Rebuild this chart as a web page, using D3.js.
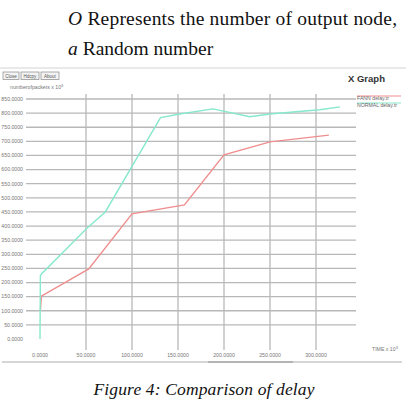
<!DOCTYPE html>
<html>
<head>
<meta charset="utf-8">
<script src="https://cdn.jsdelivr.net/npm/d3@7"></script>
<style>
  body { margin: 0; background: #fff; }
  svg { display: block; }
  .tick-lbl { font-family: "Liberation Sans", Arial, sans-serif; font-size: 5.2px; fill: #777; }
</style>
</head>
<body>
<svg id="chart" width="406" height="400"></svg>
<script>
// data (time x 10^3, packets x 10^3)
var fannTime  = [0.5, 1.5, 53, 100, 157, 200, 250, 314];
var fannVal   = [103, 152, 248, 443, 475, 652, 698, 722];
var normTime  = [0, 0.4, 1.5, 51, 71, 131, 152, 188, 228, 250, 304, 326];
var normVal   = [0, 225, 230, 392, 450, 784, 797, 815, 787, 797, 812, 822];
var xTicks = [0, 50, 100, 150, 200, 250, 300];
var yTicks = [0, 50, 100, 150, 200, 250, 300, 350, 400, 450, 500, 550, 600, 650, 700, 750, 800, 850];
var seriesNames = ['FANN delay.tr', 'NORMAL delay.tr'];
var seriesColors = ['#ef8e8e', '#86e8cc'];
var buttons = ['Close', 'Hdcpy', 'About'];

var svg = d3.select('#chart');

const x = d3.scaleLinear().domain([0, 300]).range([40, 316]);
const y = d3.scaleLinear().domain([0, 850]).range([339, 99]);

// text above the figure
svg.append('text')
    .attr('x', 68).attr('y', 25)
    .attr('font-family', '"Liberation Serif", "Times New Roman", serif')
    .attr('font-size', 19.5)
    .attr('textLength', 329)
    .attr('fill', '#111')
    .html('<tspan font-style="italic">O</tspan> Represents the number of output node,');
svg.append('text')
    .attr('x', 68).attr('y', 55)
    .attr('font-family', '"Liberation Serif", "Times New Roman", serif')
    .attr('font-size', 19.5)
    .attr('fill', '#111')
    .html('<tspan font-style="italic">a</tspan> Random number');

// window top border
svg.append('line')
    .attr('x1', 0).attr('x2', 406).attr('y1', 68).attr('y2', 68)
    .attr('stroke', '#d4d4d4').attr('stroke-width', 1.2);

// buttons
var bx = 3;
buttons.forEach(function (b) {
    var w = b == 'Close' ? 16 : 18;
    svg.append('rect')
        .attr('x', bx).attr('y', 72).attr('width', w).attr('height', 7.5)
        .attr('fill', '#f4f4f4').attr('stroke', '#888').attr('stroke-width', 0.7);
    svg.append('text')
        .attr('x', bx + w / 2).attr('y', 77.6)
        .attr('text-anchor', 'middle')
        .attr('class', 'tick-lbl')
        .style('font-size', '4.5px').style('fill', '#555')
        .text(b);
    bx += w + 2;
});

svg.append('text')
    .attr('x', 10).attr('y', 89)
    .attr('class', 'tick-lbl')
    .html('numberofpackets x 10<tspan dy="-2" font-size="4">3</tspan>');

svg.append('text')
    .attr('x', 348).attr('y', 82)
    .attr('font-family', '"Liberation Sans", Arial, sans-serif')
    .attr('font-size', 9.5).attr('font-weight', 'bold')
    .attr('fill', '#333')
    .text('X Graph');

// grid
var g = svg.append('g');
g.selectAll('.hgrid').data(yTicks.filter(d => d > 0))
    .enter().append('line')
    .attr('class', 'hgrid')
    .attr('x1', 26).attr('x2', 356)
    .attr('y1', d => y(d)).attr('y2', d => y(d))
    .attr('stroke', '#b8b8b8').attr('stroke-width', 1.3);

g.selectAll('.vgrid').data(xTicks.filter(d => d > 0))
    .enter().append('line')
    .attr('class', 'vgrid')
    .attr('x1', d => x(d)).attr('x2', d => x(d))
    .attr('y1', 94).attr('y2', 350)
    .attr('stroke', '#b8b8b8').attr('stroke-width', 1.3);

g.selectAll('.ylbl').data(yTicks)
    .enter().append('text')
    .attr('class', 'tick-lbl')
    .attr('x', 23).attr('y', d => y(d) + 1.8)
    .attr('text-anchor', 'end')
    .text(d => d.toFixed(4));

g.selectAll('.xlbl').data(xTicks)
    .enter().append('text')
    .attr('class', 'tick-lbl')
    .attr('x', d => x(d)).attr('y', 357)
    .attr('text-anchor', 'middle')
    .text(d => d.toFixed(4));

svg.append('text')
    .attr('x', 372).attr('y', 351)
    .attr('class', 'tick-lbl')
    .html('TIME x 10<tspan dy="-2" font-size="4">3</tspan>');

// lines
const line = d3.line().x(d => x(d[0])).y(d => y(d[1]));
var fann = fannTime.map((t, i) => [t, fannVal[i]]);
var norm = normTime.map((t, i) => [t, normVal[i]]);

[fann, norm].forEach(function (s, i) {
    svg.append('path')
        .attr('d', line(s))
        .attr('fill', 'none')
        .attr('stroke', seriesColors[i])
        .attr('stroke-width', 1.4);
});

// legend
seriesNames.forEach(function (n, i) {
    var ly = 96 + i * 7;
    svg.append('line')
        .attr('x1', 357).attr('x2', 401).attr('y1', ly).attr('y2', ly)
        .attr('stroke', seriesColors[i]).attr('stroke-width', 1.2);
    svg.append('text')
        .attr('x', 357).attr('y', ly + 4)
        .attr('class', 'tick-lbl')
        .style('fill', '#666')
        .text(n);
});

// bottom scroll bar
svg.append('line')
    .attr('x1', 2).attr('x2', 402).attr('y1', 362).attr('y2', 362)
    .attr('stroke', '#c8c8c8').attr('stroke-width', 1.5);
svg.append('line')
    .attr('x1', 208).attr('x2', 293).attr('y1', 362).attr('y2', 362)
    .attr('stroke', '#a8a8a8').attr('stroke-width', 1.5);

// caption
svg.append('text')
    .attr('x', 204).attr('y', 395)
    .attr('text-anchor', 'middle')
    .attr('font-family', '"Liberation Serif", "Times New Roman", serif')
    .attr('font-size', 17.5).attr('font-style', 'italic')
    .attr('textLength', 221)
    .attr('fill', '#111')
    .text('Figure 4: Comparison of delay');
</script>
</body>
</html>
